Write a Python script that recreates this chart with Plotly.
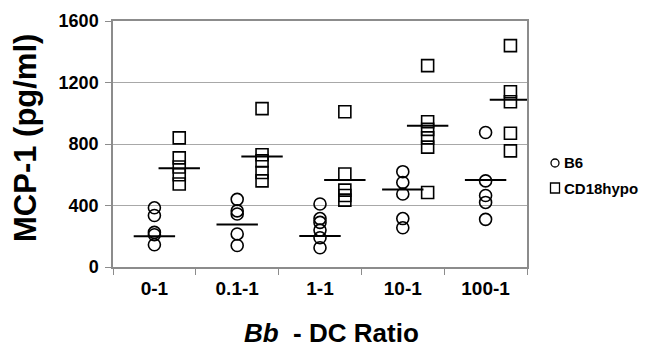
import plotly.graph_objects as go

categories = ["0-1", "0.1-1", "1-1", "10-1", "100-1"]
b6_values = [
    [385, 335, 225, 210, 145],
    [440, 365, 345, 215, 140],
    [410, 315, 290, 240, 190, 125],
    [620, 550, 475, 315, 255],
    [875, 560, 465, 420, 310],
]
cd18_values = [
    [840, 710, 650, 600, 540],
    [1030, 730, 690, 615, 560],
    [1010, 605, 500, 465, 435],
    [1310, 945, 895, 840, 780, 485],
    [1440, 1140, 1075, 870, 755],
]
b6_line = [200, 277, 201, 504, 566]
cd18_line = [642, 718, 566, 919, 1087]
y_ticks = [0, 400, 800, 1200, 1600]

OFFSET = 0.3
HALF = 0.25
GRAY = "#8c8c8c"
FONT = "Liberation Sans, Arial, sans-serif"

# page body has an 8px margin; figure positioned accordingly
PAD = 8
FIG_W, FIG_H = 647 - PAD, 351 - PAD
L, R, T, B = 113 - PAD, 527 - PAD, 21 - PAD, 267 - PAD

fig = go.Figure()

bx, by, sx, sy = [], [], [], []
for i, vals in enumerate(b6_values):
    bx += [i] * len(vals)
    by += vals
for i, vals in enumerate(cd18_values):
    sx += [i + OFFSET] * len(vals)
    sy += vals

fig.add_trace(go.Scatter(x=bx, y=by, mode="markers", name="B6",
                         marker=dict(symbol="circle-open", size=12, color="black",
                                     line=dict(width=1.6, color="black"))))
fig.add_trace(go.Scatter(x=sx, y=sy, mode="markers", name="CD18hypo",
                         marker=dict(symbol="square-open", size=12, color="black",
                                     line=dict(width=1.6, color="black"))))

lx, ly = [], []
for i, v in enumerate(b6_line):
    lx += [i - HALF, i + HALF, None]
    ly += [v, v, None]
for i, v in enumerate(cd18_line):
    lx += [i + OFFSET - HALF, i + OFFSET + HALF, None]
    ly += [v, v, None]
fig.add_trace(go.Scatter(x=lx, y=ly, mode="lines", line=dict(color="black", width=2),
                         showlegend=False, hoverinfo="skip"))

W, H = R - L, B - T
def px(x):
    return (x - PAD - L) / W
def py(y):
    return (B - (y - PAD)) / H

shapes = [
    dict(type="circle", xref="paper", yref="paper", xsizemode="pixel", ysizemode="pixel",
         xanchor=px(555), yanchor=py(163), x0=-4, x1=4, y0=-4, y1=4,
         line=dict(color="black", width=1.3)),
    dict(type="rect", xref="paper", yref="paper", xsizemode="pixel", ysizemode="pixel",
         xanchor=px(555), yanchor=py(188), x0=-4.5, x1=4.5, y0=-5, y1=5,
         line=dict(color="black", width=1.3)),
]
annotations = [
    dict(text="<b>B6</b>", xref="paper", yref="paper", x=px(562), y=py(163),
         xanchor="left", yanchor="middle", showarrow=False,
         font=dict(family=FONT, size=15, color="black")),
    dict(text="<b>CD18hypo</b>", xref="paper", yref="paper", x=px(562), y=py(188),
         xanchor="left", yanchor="middle", showarrow=False,
         font=dict(family=FONT, size=15, color="black")),
    dict(text="<b><i>Bb</i>&nbsp;&nbsp;- DC Ratio</b>", xref="paper", yref="paper",
         x=px(331), y=py(333), xanchor="center", yanchor="middle", showarrow=False,
         font=dict(family=FONT, size=26, color="black")),
    dict(text="<b>MCP-1 (pg/ml)</b>", xref="paper", yref="paper", textangle=-90,
         x=px(25), y=py(138), xanchor="center", yanchor="middle", showarrow=False,
         font=dict(family=FONT, size=31, color="black")),
]

fig.update_layout(
    width=FIG_W, height=FIG_H,
    margin=dict(l=L, r=FIG_W - R, t=T, b=FIG_H - B, autoexpand=False),
    paper_bgcolor="white", plot_bgcolor="white",
    showlegend=False,
    shapes=shapes, annotations=annotations,
    font=dict(family=FONT, color="black"),
    xaxis=dict(
        range=[-0.5, 4.5], automargin=False,
        tickmode="array", tickvals=list(range(len(categories))),
        ticktext=["<b>%s</b>" % c for c in categories],
        ticks="", showgrid=False, zeroline=False,
        showline=True, linecolor=GRAY, linewidth=1.5, mirror=True,
        tickfont=dict(size=19, family=FONT, color="black"),
        ticklabelstandoff=3,
        minor=dict(tickvals=[i - 0.5 for i in range(len(categories) + 1)],
                   ticks="outside", ticklen=6, tickcolor=GRAY, tickwidth=1, showgrid=False),
    ),
    yaxis=dict(
        range=[0, 1600], tickmode="array", tickvals=y_ticks, automargin=False,
        ticktext=["<b>%d</b>" % v for v in y_ticks],
        ticks="outside", ticklen=6, tickcolor=GRAY,
        showgrid=True, gridcolor="#a8a8a8", gridwidth=1, zeroline=False,
        showline=True, linecolor=GRAY, linewidth=1.5, mirror=True,
        tickfont=dict(size=18, family=FONT, color="black"),
        ticklabelstandoff=3,
    ),
)

fig.write_html("out.html")
